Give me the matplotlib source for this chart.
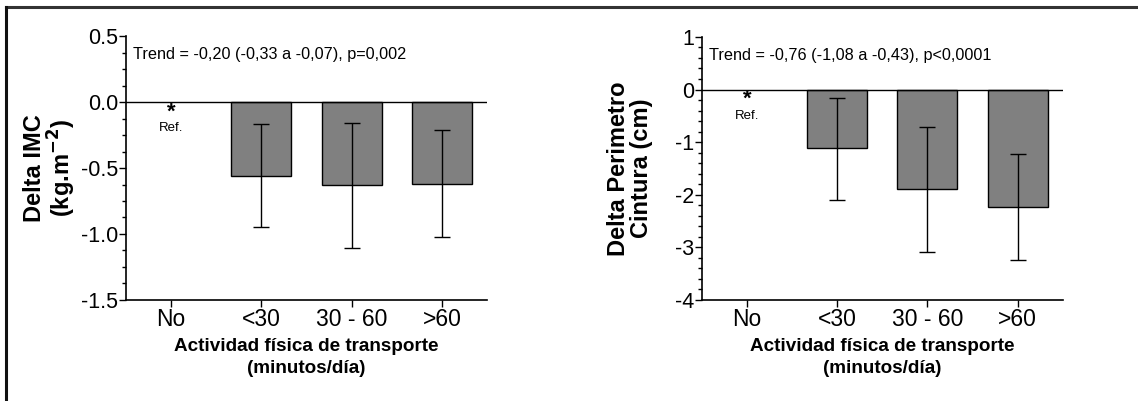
import matplotlib
matplotlib.use("Agg")
from matplotlib import pyplot as plt
from matplotlib.ticker import MultipleLocator

plt.rcParams['font.family'] = ['Liberation Sans', 'DejaVu Sans']
plt.rcParams['axes.unicode_minus'] = False

categorias = ["No", "<30", "30 - 60", ">60"]

# IMC (kg.m-2)
imc = [0, -0.56, -0.63, -0.62]
imc_sup = [0, -0.17, -0.16, -0.21]
imc_inf = [0, -0.95, -1.11, -1.02]

# Perimetro cintura (cm)
cint = [0, -1.12, -1.90, -2.24]
cint_sup = [0, -0.16, -0.72, -1.22]
cint_inf = [0, -2.10, -3.08, -3.24]

trend_imc = "Trend = -0,20 (-0,33 a -0,07), p=0,002"
trend_cint = "Trend = -0,76 (-1,08 a -0,43), p<0,0001"

fig = plt.figure(figsize=(11.38, 4.01), dpi=100)

# marco de la figura (solo arriba e izquierda)
fig.add_artist(plt.Line2D([0.0053, 1.0], [0.983, 0.983], color='#333333', lw=2.2))
fig.add_artist(plt.Line2D([0.0053, 0.0053], [0.0, 0.983], color='#111111', lw=2.2))


def panel(pos, vals, sup, inf, ylim, major, minor, fmt, ylabel, lpad, trend):
    ax = fig.add_axes(pos)
    x = list(range(len(categorias)))
    xs = x[1:]
    v = vals[1:]
    err_lo = [vals[i] - inf[i] for i in xs]
    err_hi = [sup[i] - vals[i] for i in xs]
    ax.bar(xs, v, width=0.667, color='#808080', edgecolor='black', linewidth=1, zorder=2)
    ax.errorbar(xs, v, yerr=[err_lo, err_hi], fmt='none', ecolor='black',
                elinewidth=1, capsize=5.5, capthick=1, zorder=3)
    ax.axhline(0, color='black', lw=1, zorder=4)
    ax.set_xlim(-0.5, 3.5)
    ax.set_ylim(*ylim)
    ax.set_xticks(x)
    ax.set_xticklabels(categorias, fontsize=16.5)
    ax.yaxis.set_major_locator(MultipleLocator(major))
    ax.yaxis.set_minor_locator(MultipleLocator(minor))
    ax.yaxis.set_major_formatter(fmt)
    ax.tick_params(axis='y', labelsize=15.5, length=5, width=1, pad=0.5)
    ax.tick_params(axis='y', which='minor', length=3, width=1)
    ax.tick_params(axis='x', length=5, width=1, pad=1)
    for s in ['top', 'right']:
        ax.spines[s].set_visible(False)
    for s in ['left', 'bottom']:
        ax.spines[s].set_linewidth(1.2)
    ax.set_ylabel(ylabel, fontsize=17, fontweight='bold', labelpad=lpad, linespacing=1.0)
    ax.set_xlabel("Actividad física de transporte\n(minutos/día)", fontsize=13.6,
                  fontweight='bold', labelpad=5, linespacing=1.4)
    ax.text(0.02, 0.93, trend, transform=ax.transAxes, fontsize=11.7, va='center', ha='left')
    ax.annotate("*", xy=(0, 0), xytext=(0, -7), textcoords='offset points',
                ha='center', va='center', fontsize=16, fontweight='bold')
    ax.annotate("Ref.", xy=(0, 0), xytext=(0, -19), textcoords='offset points',
                ha='center', va='center', fontsize=9.5)
    return ax


panel([0.1107, 0.252, 0.3173, 0.658], imc, imc_sup, imc_inf, (-1.5, 0.5), 0.5, 0.125,
      '{x:.1f}', "Delta IMC\n(kg.m$\\mathbf{^{-2}}$)", 2, trend_imc)
panel([0.6166, 0.252, 0.3173, 0.656], cint, cint_sup, cint_inf, (-4, 1), 1, 0.2,
      '{x:.0f}', "Delta Perimetro\nCintura (cm)", 16, trend_cint)

fig.savefig("out.png", dpi=100)
